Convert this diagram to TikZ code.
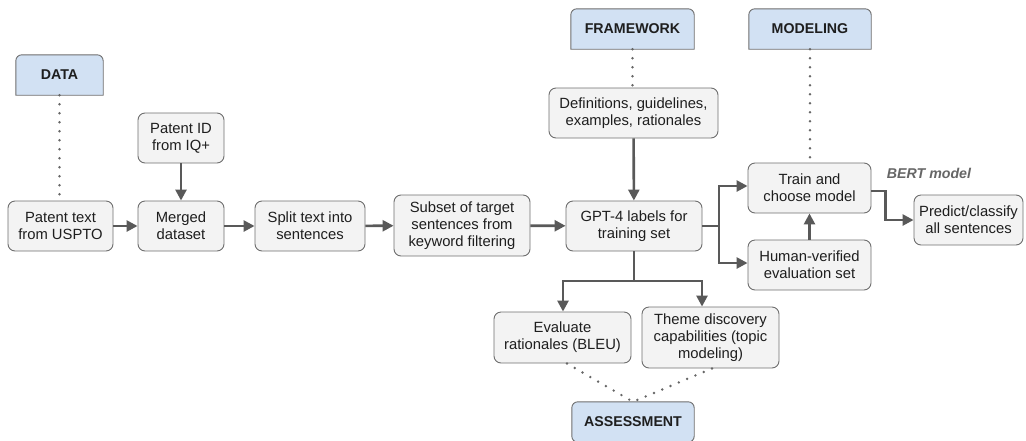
\documentclass[tikz,border=0pt]{standalone}
\usepackage{fontspec}
\setmainfont{Liberation Sans}
\usetikzlibrary{arrows.meta,backgrounds}
\definecolor{boxfill}{HTML}{F3F3F3}
\definecolor{boxline}{HTML}{6E6E6E}
\definecolor{hdrfill}{HTML}{D2E1F3}
\definecolor{textc}{HTML}{1E1E1E}
\definecolor{arrowc}{HTML}{595959}
\definecolor{dotc}{HTML}{666666}
\definecolor{bertc}{HTML}{666666}
\newcommand{\boxfont}{\fontsize{14.8}{17}\selectfont}
\newcommand{\hdrfont}{\fontsize{14.2}{17}\selectfont\bfseries}
\tikzset{
  box/.style={draw=boxline, fill=boxfill, rounded corners=7pt, line width=0.9pt,
    align=center, inner sep=0pt, text=textc, font=\boxfont},
  hdr/.style={inner sep=0pt, font=\hdrfont, text=textc},
  hdrshape/.style={draw=boxline, fill=hdrfill, line width=0.9pt},
  flow/.style={draw=arrowc, line width=2.6pt, -{Triangle[length=11pt,width=11pt]}},
  dots/.style={draw=dotc, line width=2.7pt, dash pattern=on 0pt off 9pt, line cap=round},
}
\begin{document}
\begin{tikzpicture}[x=1pt,y=-1pt]
\useasboundingbox (0,0) rectangle (1026,440);
\clip (0,0) rectangle (1026,440);

% header nodes
\node[hdr, minimum width=87, minimum height=40] (data) at (59.5,75) {DATA};
\node[hdr, minimum width=123, minimum height=40] (framework) at (632.5,29) {FRAMEWORK};
\node[hdr, minimum width=122, minimum height=40] (modeling) at (810,29) {MODELING};
\node[hdr, minimum width=122, minimum height=40] (assessment) at (633,422) {ASSESSMENT};
\begin{scope}[on background layer]
\foreach \n in {data,framework,modeling} {
  \draw[hdrshape] (\n.south west) [rounded corners=6pt] -- (\n.north west) -- (\n.north east) [sharp corners] -- (\n.south east) -- cycle;
}
\draw[hdrshape] (assessment.north west) [rounded corners=6pt] -- (assessment.south west) -- (assessment.south east) -- (assessment.north east) -- cycle;
\end{scope}

% process boxes
\node[box, minimum width=105, minimum height=50] (ptext) at (60.5,226) {Patent text\\from USPTO};
\node[box, minimum width=86, minimum height=50] (pid) at (181,138) {Patent ID\\from IQ+};
\node[box, minimum width=86, minimum height=50] (merged) at (181,226) {Merged\\dataset};
\node[box, minimum width=110, minimum height=50] (split) at (310,226) {Split text into\\sentences};
\node[box, minimum width=136, minimum height=61] (subset) at (462,225.5) {Subset of target\\sentences from\\keyword filtering};
\node[box, minimum width=169, minimum height=50] (defs) at (633.5,113) {Definitions, guidelines,\\examples, rationales};
\node[box, minimum width=136, minimum height=50] (gpt) at (634,226) {GPT-4 labels for\\training set};
\node[box, minimum width=123, minimum height=50] (train) at (809.5,188) {Train and\\choose model};
\node[box, minimum width=123, minimum height=50] (human) at (809.5,265) {Human-verified\\evaluation set};
\node[box, minimum width=109, minimum height=50] (predict) at (968.5,220) {Predict/classify\\all sentences};
\node[box, minimum width=137, minimum height=51] (eval) at (562.5,337.5) {Evaluate\\rationales (BLEU)};
\node[box, minimum width=137, minimum height=61] (theme) at (710.5,337.5) {Theme discovery\\capabilities (topic\\modeling)};
\node[font=\hdrfont\itshape, text=bertc, inner sep=0pt] (bert) at (929,173) {BERT model};

% dotted links
\draw[dots] (data.south) -- (data.south |- ptext.north);
\draw[dots] (framework.south) -- (framework.south |- defs.north);
\draw[dots] (modeling.south) -- (modeling.south |- train.north);
\draw[dots] ([xshift=4.5pt]eval.south) -- (assessment.north);
\draw[dots] ([xshift=1.5pt]theme.south) -- (assessment.north);

% flow arrows
\draw[flow] (ptext) -- (merged);
\draw[flow] (pid) -- (merged);
\draw[flow] (merged) -- (split);
\draw[flow] (split) -- (subset);
\draw[flow] (subset) -- (gpt);
\draw[flow] (defs) -- (gpt);
\coordinate (gs) at (719,226);
\draw[flow] (gpt.east) -- (gs) |- ([yshift=2pt]train.west);
\draw[flow] (gs) |- ([yshift=2pt]human.west);
\draw[flow] (human.north) -- (train.south);
\draw[flow] ([yshift=-3pt]train.east) -- ++(14,0) |- (predict.west);
\coordinate (gb) at (634,281);
\draw[flow] (gpt.south) -- (gb) -| ([xshift=0.5pt]eval.north);
\draw[flow] (gb) -| ([xshift=-8.5pt]theme.north);
\end{tikzpicture}
\end{document}
